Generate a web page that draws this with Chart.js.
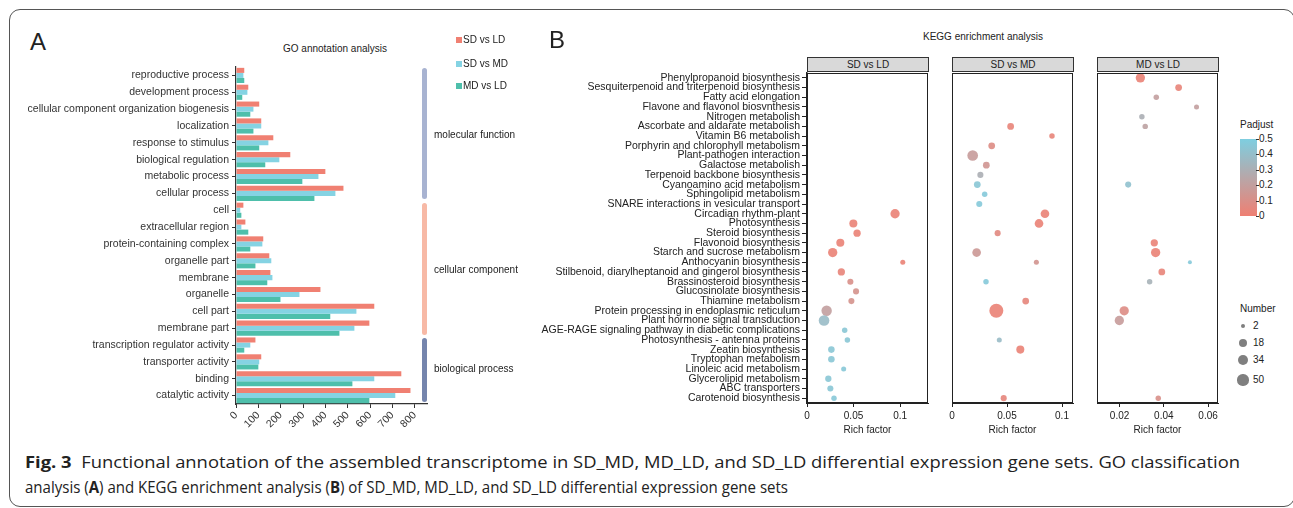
<!DOCTYPE html>
<html lang="en">
<head>
<meta charset="UTF-8">
<title>Fig. 3 GO / KEGG</title>
<script src="https://cdn.jsdelivr.net/npm/chart.js"></script>
<style>
  body { margin:0; width:1293px; height:508px; position:relative; overflow:hidden; background:#fff;
         font-family:"Liberation Sans", Arial, sans-serif; color:#222; }
  .t { position:absolute; white-space:nowrap; line-height:1; }
  .frame { position:absolute; left:9px; top:9px; width:1284px; height:496px; border:1px solid #555; border-radius:11px; }
  .bracket { position:absolute; width:5px; border-radius:3px; }
  .strip { position:absolute; height:15px; background:#d9d9d9; border:1px solid #333; box-sizing:border-box;
           font-size:10px; text-align:center; line-height:14px; }
  .cap { position:absolute; left:25px; white-space:nowrap; font-family:"Open Sans", sans-serif; font-size:16px;
         color:#222; transform-origin:0 50%; }
  canvas { position:absolute; }
</style>
</head>
<body>
<div class="frame"></div>

<!-- panel A -->
<div class="t" style="left:30px;top:30px;font-size:24px;">A</div>
<div class="t" style="left:283px;top:44px;font-size:10px;">GO annotation analysis</div>
<canvas id="goChart" width="440" height="385" style="left:0;top:55px;"></canvas>

<div class="bracket" style="left:422px;top:68px;height:131px;background:#a8b3d1;"></div>
<div class="bracket" style="left:422px;top:203px;height:132px;background:#f7b9a6;"></div>
<div class="bracket" style="left:422px;top:338px;height:64px;background:#7585ad;"></div>
<div class="t" style="left:434px;top:130px;font-size:10px;">molecular function</div>
<div class="t" style="left:434px;top:265px;font-size:10px;">cellular component</div>
<div class="t" style="left:434px;top:364px;font-size:10px;">biological process</div>
<div id="goLegend"></div>

<!-- panel B -->
<div class="t" style="left:549px;top:28px;font-size:24px;">B</div>
<div class="t" style="left:923px;top:32px;font-size:10px;">KEGG enrichment analysis</div>
<div class="strip" style="left:807px;top:57px;width:122px;">SD vs LD</div>
<div class="strip" style="left:952px;top:57px;width:122px;">SD vs MD</div>
<div class="strip" style="left:1097px;top:57px;width:122px;">MD vs LD</div>
<canvas id="kegg1" width="395" height="390" style="left:540px;top:50px;"></canvas>
<canvas id="kegg2" width="135" height="390" style="left:945px;top:50px;"></canvas>
<canvas id="kegg3" width="135" height="390" style="left:1090px;top:50px;"></canvas>

<div class="t" style="left:1240px;top:120px;font-size:10px;">Padjust</div>
<div id="padjBar" style="position:absolute;left:1240px;top:139px;width:17px;height:77px;"></div>
<div id="padjTicks"></div>
<div class="t" style="left:1240px;top:304px;font-size:10px;">Number</div>
<div id="numLegend"></div>

<div class="cap" id="cap1" style="top:451px;"><b>Fig. 3</b>&nbsp; Functional annotation of the assembled transcriptome in SD_MD, MD_LD, and SD_LD differential expression gene sets. GO classification</div>
<div class="cap" id="cap2" style="top:476px;">analysis (<b>A</b>) and KEGG enrichment analysis (<b>B</b>) of SD_MD, MD_LD, and SD_LD differential expression gene sets</div>

<script>
// ---- GO annotation (panel A) ----
const goTerms = ['reproductive process', 'development process', 'cellular component organization biogenesis',
  'localization', 'response to stimulus', 'biological regulation', 'metabolic process', 'cellular process',
  'cell', 'extracellular region', 'protein-containing complex', 'organelle part', 'membrane', 'organelle',
  'cell part', 'membrane part', 'transcription regulator activity', 'transporter activity', 'binding',
  'catalytic activity'];
const goSDvsLD = [37, 55, 104, 113, 167, 243, 400, 481, 33, 42, 122, 149, 154, 378, 619, 597, 87, 113, 740, 781];
const goSDvsMD = [33, 51, 78, 113, 145, 194, 369, 445, 19, 24, 118, 158, 163, 284, 539, 530, 64, 104, 619, 713];
const goMDvsLD = [37, 28, 64, 78, 104, 131, 297, 351, 24, 55, 64, 87, 140, 199, 422, 463, 37, 100, 521, 597];
const goTicks = [0, 100, 200, 300, 400, 500, 600, 700, 800];

// ---- KEGG enrichment (panel B) ----
const keggTerms = ['Phenylpropanoid biosynthesis', 'Sesquiterpenoid and triterpenoid biosynthesis',
  'Fatty acid elongation', 'Flavone and flavonol biosvnthesis', 'Nitrogen metabolish',
  'Ascorbate and aldarate metabolish', 'Vitamin B6 metabolish', 'Porphyrin and chlorophyll metabolism',
  'Plant-pathogen interaction', 'Galactose metabolish', 'Terpenoid backbone biosynthesis',
  'Cyanoamino acid metabolism', 'Sphingolipid metabolism', 'SNARE interactions in vesicular transport',
  'Circadian rhythm-plant', 'Photosynthesis', 'Steroid biosynthesis', 'Flavonoid biosynthesis',
  'Starch and sucrose metabolism', 'Anthocyanin biosynthesis',
  'Stilbenoid, diarylheptanoid and gingerol biosynthesis', 'Brassinosteroid biosynthesis',
  'Glucosinolate biosynthesis', 'Thiamine metabolism', 'Protein processing in endoplasmic reticulum',
  'Plant hormone signal transduction', 'AGE-RAGE signaling pathway in diabetic complications',
  'Photosynthesis - antenna proteins', 'Zeatin biosynthesis', 'Tryptophan metabolism',
  'Linoleic acid metabolism', 'Glycerolipid metabolism', 'ABC transporters', 'Carotenoid biosynthesis'];

// SD vs LD (row numbers refer to keggTerms, 1-based)
const sdldRow  = [15, 16, 17, 18, 19, 20, 21, 22, 23, 24, 25, 26, 27, 28, 29, 30, 31, 32, 33, 34];
const sdldRich = [0.0946, 0.0498, 0.0538, 0.0358, 0.0276, 0.1029, 0.0369, 0.0466, 0.0527, 0.0477,
                  0.0211, 0.0183, 0.0405, 0.0434, 0.0262, 0.0262, 0.0394, 0.0229, 0.0251, 0.0290];
const sdldNum  = [28, 17, 12, 17, 28, 3, 12, 6, 6, 6, 40, 43, 4, 4, 8, 8, 3, 7, 6, 4];
const sdldPadj = [0.02, 0.02, 0.02, 0.02, 0.02, 0.02, 0.03, 0.1, 0.12, 0.12, 0.2, 0.38, 0.45, 0.45,
                  0.45, 0.45, 0.46, 0.45, 0.45, 0.46];
const sdldTicks = [0, 0.05, 0.1];

// SD vs MD
const sdmdRow  = [6, 7, 8, 9, 10, 11, 12, 13, 14, 15, 16, 17, 19, 20, 22, 24, 25, 28, 29, 34];
const sdmdRich = [0.0533, 0.0909, 0.0361, 0.0188, 0.0312, 0.0258, 0.0230, 0.0297, 0.0248, 0.0845,
                  0.0791, 0.0415, 0.0224, 0.0767, 0.0309, 0.0670, 0.0403, 0.0430, 0.0621, 0.0470];
const sdmdNum  = [9, 4, 9, 43, 9, 6, 9, 4, 6, 22, 22, 6, 22, 3, 4, 9, 94, 3, 17, 6];
const sdmdPadj = [0.03, 0.03, 0.08, 0.18, 0.14, 0.3, 0.45, 0.47, 0.47, 0.02, 0.02, 0.06, 0.16, 0.13,
                  0.47, 0.04, 0.02, 0.38, 0.02, 0.04];
const sdmdTicks = [0, 0.05, 0.1];

// MD vs LD
const mdldRow  = [1, 2, 3, 4, 5, 6, 12, 18, 19, 20, 21, 22, 25, 26, 34];
const mdldRich = [0.0294, 0.0467, 0.0366, 0.0548, 0.0301, 0.0316, 0.0239, 0.0357, 0.0363, 0.0518,
                  0.0391, 0.0336, 0.0221, 0.0199, 0.0375];
const mdldNum  = [28, 9, 4, 3, 4, 4, 6, 12, 28, 2, 9, 4, 28, 28, 4];
const mdldPadj = [0.02, 0.03, 0.2, 0.2, 0.3, 0.22, 0.42, 0.02, 0.02, 0.47, 0.03, 0.32, 0.08, 0.18, 0.1];
const mdldTicks = [0.02, 0.04, 0.06];

const numBreaks = [2, 18, 34, 50];
const padjBreaks = [0, 0.1, 0.2, 0.3, 0.4, 0.5];

Chart.defaults.font.family = '"Liberation Sans", Arial, sans-serif';
Chart.defaults.color = '#222';
Chart.defaults.animation = false;

// colours
const colSDLD = '#f08072', colSDMD = '#85d3e3', colMDLD = '#4ebfab';
const lowCol = [239, 127, 114], highCol = [126, 206, 224];
function padjColor(p, a) {
  const t = Math.min(Math.max(p / 0.5, 0), 1);
  const c = lowCol.map((v, i) => Math.round(v + (highCol[i] - v) * t));
  return `rgba(${c[0]},${c[1]},${c[2]},${a})`;
}
function sizeFor(n) {
  return 2 + 0.52 * Math.sqrt(Math.max(n - 2, 0));
}
const fixTicks = vals => s => { s.ticks = vals.map(v => ({ value: v })); };

// ---------- bar chart ----------
new Chart(document.getElementById('goChart'), {
  type: 'bar',
  data: {
    labels: goTerms,
    datasets: [
      { label: 'SD vs LD', data: goSDvsLD, backgroundColor: colSDLD },
      { label: 'SD vs MD', data: goSDvsMD, backgroundColor: colSDMD },
      { label: 'MD vs LD', data: goMDvsLD, backgroundColor: colMDLD }
    ]
  },
  options: {
    indexAxis: 'y',
    responsive: false,
    layout: { padding: { top: 12, right: 13, left: 0, bottom: 0 } },
    datasets: { bar: { categoryPercentage: 0.9, barPercentage: 1.0 } },
    plugins: { legend: { display: false }, tooltip: { enabled: false } },
    scales: {
      x: {
        min: 0, max: 855,
        afterBuildTicks: fixTicks(goTicks),
        afterFit: s => { s.height = 36; },
        ticks: { minRotation: 45, maxRotation: 45, autoSkip: false, font: { size: 10.5 }, color: '#333', padding: 1 },
        grid: { display: true, drawOnChartArea: false, tickLength: 4, color: '#333' },
        border: { display: true, color: '#333', width: 1.2 }
      },
      y: {
        afterFit: s => { s.width = 236; },
        ticks: { autoSkip: false, font: { size: 10.5 }, color: '#333', padding: 3 },
        grid: { display: true, drawOnChartArea: false, offset: false, tickLength: 4, color: '#333' },
        border: { display: true, color: '#333', width: 1.2 }
      }
    }
  }
});

// legend of panel A
const goLegend = document.getElementById('goLegend');
[['SD vs LD', colSDLD, 41], ['SD vs MD', colSDMD, 65], ['MD vs LD', colMDLD, 87]].forEach(([txt, col, y]) => {
  goLegend.insertAdjacentHTML('beforeend',
    `<div style="position:absolute;left:456px;top:${y - 4}px;width:6px;height:6px;background:${col}"></div>` +
    `<div class="t" style="left:463px;top:${y - 6}px;font-size:10px;">${txt}</div>`);
});

// ---------- KEGG facets ----------
const panelBox = {
  id: 'panelBox',
  afterDraw(chart) {
    const a = chart.chartArea, c = chart.ctx;
    c.save();
    c.strokeStyle = '#222';
    c.lineWidth = 1;
    c.strokeRect(Math.round(a.left) + 0.5, Math.round(a.top) + 0.5,
                 Math.round(a.right - a.left) - 1, Math.round(a.bottom - a.top) - 1);
    c.restore();
  }
};

const rowTicks = keggTerms.map((t, i) => i + 1);

function facet(id, rows, rich, num, padj, xmin, xmax, xticks, showY) {
  const pts = rows.map((r, i) => ({ x: rich[i], y: r }));
  new Chart(document.getElementById(id), {
    type: 'scatter',
    data: { datasets: [{
      data: pts,
      pointRadius: ctx => sizeFor(num[ctx.dataIndex]),
      pointBackgroundColor: ctx => padjColor(padj[ctx.dataIndex], 0.9),
      pointBorderWidth: 0,
      pointHoverRadius: ctx => sizeFor(num[ctx.dataIndex])
    }] },
    options: {
      responsive: false,
      layout: { padding: { top: 23, right: 7, left: showY ? 0 : 7, bottom: 0 } },
      plugins: { legend: { display: false }, tooltip: { enabled: false } },
      scales: {
        x: {
          min: xmin, max: xmax,
          afterBuildTicks: fixTicks(xticks),
          afterFit: s => { s.height = 37; },
          ticks: { maxRotation: 0, autoSkip: false, font: { size: 10 }, color: '#222', padding: 3,
                   callback: v => String(v) },
          grid: { display: true, drawOnChartArea: false, tickLength: 4, color: '#222' },
          border: { display: true, color: '#222', width: 1 },
          title: { display: true, text: 'Rich factor', font: { size: 10 }, color: '#222', padding: { top: 2, bottom: 4 } }
        },
        y: {
          display: showY,
          reverse: true,
          min: 0.5, max: keggTerms.length + 0.5,
          afterBuildTicks: fixTicks(rowTicks),
          afterFit: s => { if (showY) s.width = 267; },
          ticks: { autoSkip: false, font: { size: 10.5 }, color: '#222', padding: 2,
                   callback: v => keggTerms[v - 1] },
          grid: { display: true, drawOnChartArea: false, tickLength: 5, color: '#222' },
          border: { display: true, color: '#222', width: 1.5 }
        }
      }
    },
    plugins: [panelBox]
  });
}

facet('kegg1', sdldRow, sdldRich, sdldNum, sdldPadj, 0, 0.13, sdldTicks, true);
facet('kegg2', sdmdRow, sdmdRich, sdmdNum, sdmdPadj, 0, 0.11, sdmdTicks, false);
facet('kegg3', mdldRow, mdldRich, mdldNum, mdldPadj, 0.0098, 0.0645, mdldTicks, false);

// Padjust colour bar
document.getElementById('padjBar').style.background =
  `linear-gradient(to top, ${padjColor(0, 1)}, ${padjColor(0.25, 1)}, ${padjColor(0.5, 1)})`;
const padjTicks = document.getElementById('padjTicks');
padjBreaks.forEach(p => {
  const y = 216 - (p / 0.5) * 77;
  padjTicks.insertAdjacentHTML('beforeend',
    `<div style="position:absolute;left:1256px;top:${y}px;width:3px;height:1px;background:#333"></div>` +
    `<div class="t" style="left:1259px;top:${y - 5}px;font-size:10px;">${p}</div>`);
});

// Number legend
const numLegend = document.getElementById('numLegend');
const numY = [326, 343, 360, 380];
numBreaks.forEach((n, i) => {
  const r = sizeFor(n);
  numLegend.insertAdjacentHTML('beforeend',
    `<div style="position:absolute;left:${1243 - r}px;top:${numY[i] - r}px;width:${2 * r}px;height:${2 * r}px;` +
    `border-radius:50%;background:#7f7f7f"></div>` +
    `<div class="t" style="left:1253px;top:${numY[i] - 5}px;font-size:10px;">${n}</div>`);
});

// caption lines stretched to the widths of the printed figure
[['cap1', 1215], ['cap2', 763]].forEach(([id, w]) => {
  const el = document.getElementById(id);
  el.style.transform = `scaleX(${w / el.getBoundingClientRect().width})`;
});
</script>
</body>
</html>
